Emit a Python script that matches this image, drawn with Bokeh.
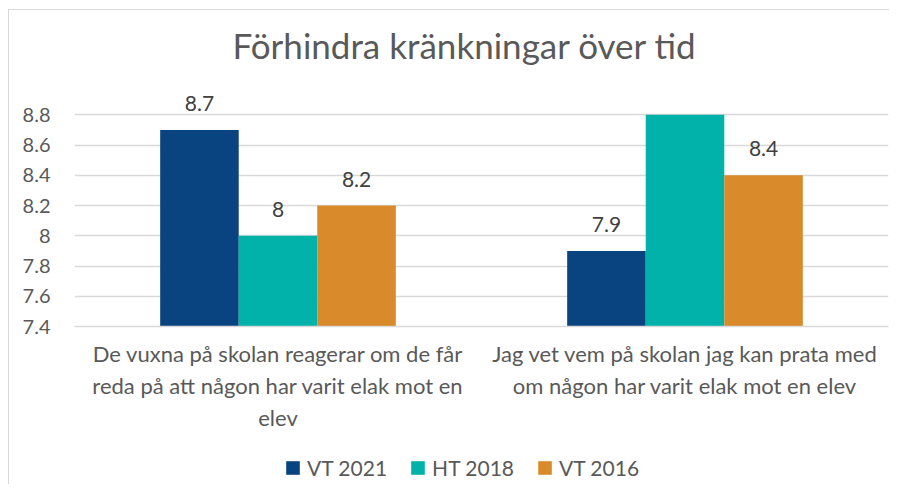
from bokeh.plotting import figure
from bokeh.layouts import column
from bokeh.models import (FactorRange, Range1d, Legend, LegendItem, Title, ColumnDataSource,
                          FixedTicker)
from bokeh.transform import dodge
from bokeh.embed import file_html
from bokeh.resources import INLINE
from bokeh.core.properties import value

categories = [
    "De vuxna på skolan reagerar om de får\nreda på att någon har varit elak mot en\nelev",
    "Jag vet vem på skolan jag kan prata med\nom någon har varit elak mot en elev",
]
series_names = ["VT 2021", "HT 2018", "VT 2016"]
vt2021 = [8.7, 7.9]
ht2018 = [8.0, 8.8]
vt2016 = [8.2, 8.4]
y_ticks = [7.4, 7.6, 7.8, 8.0, 8.2, 8.4, 8.6, 8.8]
colors = ["#0A4480", "#00B2AA", "#D98B2B"]

FONT = "Lato"
GRAY = "#595959"
axis_min, axis_max = y_ticks[0], y_ticks[-1]

p = figure(x_range=FactorRange(*categories), y_range=Range1d(axis_min, 9.0),
           width=889, height=444, output_backend="svg", toolbar_location=None,
           min_border_left=74, min_border_right=1, min_border_top=84, min_border_bottom=118)
p.x_range.range_padding = 0
p.border_fill_color = None
p.background_fill_color = None

series = [vt2021, ht2018, vt2016]
data = dict(cat=categories)
for i, vals in enumerate(series):
    data[f"s{i}"] = vals
    # Like the original chart: a bar that reaches the axis maximum has no label
    data[f"l{i}"] = [f"{v:g}" if v < axis_max else "" for v in vals]
src = ColumnDataSource(data)

w = 0.193
offsets = [-w, 0, w]
renderers = []
for i, (name, col) in enumerate(zip(series_names, colors)):
    r = p.vbar(x=dodge("cat", offsets[i], range=p.x_range), top=f"s{i}", bottom=axis_min,
               width=w, source=src, fill_color=col, line_color=None)
    renderers.append(r)
    p.text(x=dodge("cat", offsets[i], range=p.x_range), y=f"s{i}", text=f"l{i}", source=src,
           text_align="center", text_baseline="bottom", y_offset=-19,
           text_font=value(FONT), text_font_size="21px", text_color="#404040")

p.title = Title(text="Förhindra kränkningar över tid", align="left", offset=158, standoff=37,
                text_font=FONT, text_font_size="35px", text_font_style="normal",
                text_color=GRAY)

p.yaxis.ticker = FixedTicker(ticks=y_ticks)
p.yaxis.axis_line_color = None
p.yaxis.major_tick_line_color = None
p.yaxis.minor_tick_line_color = None
p.yaxis.major_label_text_font = FONT
p.yaxis.major_label_text_font_size = "20px"
p.yaxis.major_label_text_color = GRAY
p.yaxis.major_label_standoff = 18

p.xaxis.axis_line_color = "#D9D9D9"
p.xaxis.axis_line_width = 1.5
p.xaxis.major_tick_line_color = None
p.xaxis.minor_tick_line_color = None
p.xaxis.major_label_text_font = FONT
p.xaxis.major_label_text_font_size = "22px"
p.xaxis.major_label_text_color = GRAY
p.xaxis.major_label_standoff = 7

p.xgrid.grid_line_color = None
p.ygrid.grid_line_color = "#D9D9D9"
p.ygrid.grid_line_width = 1.5
p.outline_line_color = None

# Legend strip below the chart (its proxy bars have zero width; only the legend shows)
p2 = figure(width=889, height=40, output_backend="svg", toolbar_location=None,
            x_axis_location=None, y_axis_location=None, min_border=0,
            x_range=p.x_range, y_range=Range1d(0, 1))
p2.grid.visible = False
p2.outline_line_color = None
p2.border_fill_color = None
p2.background_fill_color = None
leg_renderers = []
for i, col in enumerate(colors):
    leg_renderers.append(p2.vbar(x=dodge("cat", offsets[i], range=p2.x_range), top=f"s{i}",
                                 bottom=axis_min, width=0, source=src,
                                 fill_color=col, line_color=None))
legend = Legend(items=[LegendItem(label=n, renderers=[r]) for n, r in zip(series_names, leg_renderers)],
                orientation="horizontal", location=(210, 4),
                label_text_font=FONT, label_text_font_size="21px", label_text_color=GRAY,
                glyph_width=17, glyph_height=17, label_standoff=6, spacing=22,
                padding=0, margin=0, border_line_color=None, background_fill_alpha=0)
p2.add_layout(legend)

layout = column(p, p2, spacing=0)
layout.styles = {
    "background": ("linear-gradient(#D9D9D9, #D9D9D9) 8px 9px / 1px 100% no-repeat, "
                   "linear-gradient(#D9D9D9, #D9D9D9) 8px 9px / 100% 1px no-repeat, #FFFFFF"),
}
open("out.html", "w").write(file_html(layout, INLINE))
